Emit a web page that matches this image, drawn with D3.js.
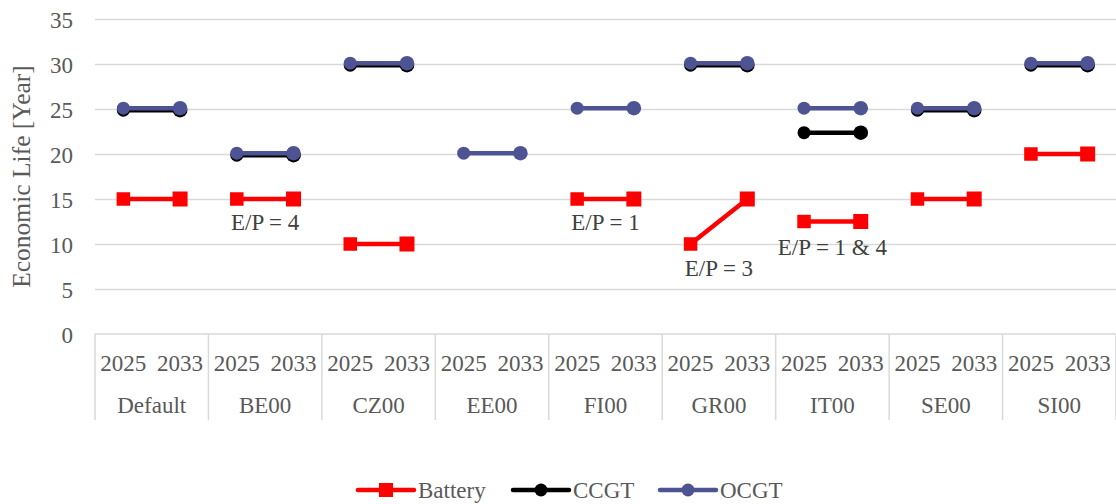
<!DOCTYPE html>
<html><head><meta charset="utf-8">
<script src="https://cdn.jsdelivr.net/npm/d3@7"></script>
<style>
html,body{margin:0;padding:0;background:#fff;}
svg{display:block;}
svg text{font-family:"Liberation Serif","Times New Roman",serif;}
</style></head>
<body><svg id="c" width="1116" height="504" font-family="Liberation Serif"></svg>
<script>
const groups = ["Default","BE00","CZ00","EE00","FI00","GR00","IT00","SE00","SI00"];
const years = ["2025","2033"];
const battery = [[15,15],[15,15],[10,10],[null,null],[15,15],[10,15],[12.5,12.5],[15,15],[20,20]];
const ccgt    = [[25,25],[20,20],[30,30],[null,null],[null,null],[30,30],[22.5,22.5],[25,25],[30,30]];
const ocgt    = [[25,25],[20,20],[30,30],[20,20],[25,25],[30,30],[25,25],[25,25],[30,30]];
const yTicks = [0,5,10,15,20,25,30,35];
const annotGroups = ["BE00","FI00","GR00","IT00"];
const annotTexts = ["E/P = 4","E/P = 1","E/P = 3","E/P = 1 & 4"];
const annotValues = [11.6,11.6,6.5,8.8];
const yTitle = "Economic Life [Year]";

const FONT = "Liberation Serif";
const svg = d3.select("#c");
const M = {l:95, r:1116, t:19, b:334};
const x0 = d3.scaleBand().domain(groups).range([M.l, M.r]);
const x1 = d3.scaleBand().domain(years).range([0, x0.bandwidth()]);
const y = d3.scaleLinear().domain([0,35]).range([M.b, M.t]);
const X = (g,yr) => x0(g) + x1(yr) + x1.bandwidth()/2;

const grid = "#d9d9d9", txt = "#595959";

// gridlines
const ga = svg.append("g").attr("transform",`translate(${M.l},0)`)
  .call(d3.axisLeft(y).tickValues(yTicks.filter(v=>v>0)).tickSize(-(M.r-M.l)).tickFormat(""));
ga.select(".domain").remove();
ga.selectAll("line").attr("stroke",grid).attr("stroke-width",1.5);

// y tick labels
const ya = svg.append("g").attr("transform",`translate(73,0)`)
  .call(d3.axisLeft(y).tickValues(yTicks).tickSize(0).tickPadding(0));
ya.attr("font-family",FONT);
ya.select(".domain").remove();
ya.selectAll("text").attr("font-size",23).attr("fill",txt)
  .attr("font-family",FONT).attr("dy","0.35em");

// bottom axis
svg.append("line").attr("x1",M.l).attr("x2",M.r).attr("y1",M.b).attr("y2",M.b)
  .attr("stroke",grid).attr("stroke-width",1.5);
const bounds = groups.map(g=>x0(g)).concat([M.r]);
svg.selectAll(".sep").data(bounds).enter().append("line")
  .attr("x1",d=>d).attr("x2",d=>d).attr("y1",M.b).attr("y2",420)
  .attr("stroke",grid).attr("stroke-width",1.5);
groups.forEach(g=>{
  years.forEach(yr=>{
    svg.append("text").attr("x",X(g,yr)).attr("y",371).attr("text-anchor","middle")
      .attr("font-family",FONT).attr("font-size",23).attr("fill",txt).text(yr);
  });
  svg.append("text").attr("x",x0(g)+x0.bandwidth()/2).attr("y",413).attr("text-anchor","middle")
    .attr("font-family",FONT).attr("font-size",23).attr("fill",txt).text(g);
});

// y title
svg.append("text").attr("transform",`translate(30,${(M.t+M.b)/2}) rotate(-90)`)
  .attr("text-anchor","middle").attr("font-family",FONT).attr("font-size",25.5).attr("fill",txt).text(yTitle);

const markerSize = [13.5,15];
const circleR = [6.5,7.3];

function drawSeries(data, color, type, dy){
  const g = svg.append("g").attr("transform",`translate(0,${dy})`);
  groups.forEach((grp,i)=>{
    const vals = data[i];
    if (vals[0]==null) return;
    g.append("line").attr("x1",X(grp,years[0])).attr("x2",X(grp,years[1]))
      .attr("y1",y(vals[0])).attr("y2",y(vals[1]))
      .attr("stroke",color).attr("stroke-width",4.5);
    vals.forEach((v,j)=>{
      if (type==="square"){
        const s = markerSize[j];
        g.append("rect").attr("x",X(grp,years[j])-s/2).attr("y",y(v)-s/2)
          .attr("width",s).attr("height",s).attr("fill",color);
      } else {
        g.append("circle").attr("cx",X(grp,years[j])).attr("cy",y(v)).attr("r",circleR[j]).attr("fill",color);
      }
    });
  });
}
const colors = {Battery:"#ff0000", CCGT:"#000000", OCGT:"#4e5394"};
drawSeries(battery, colors.Battery, "square", 0);
drawSeries(ccgt, colors.CCGT, "circle", 1.2);
drawSeries(ocgt, colors.OCGT, "circle", -0.8);

// annotations
annotGroups.forEach((g,i)=>{
  svg.append("text").attr("x",x0(g)+x0.bandwidth()/2).attr("y",y(annotValues[i]))
    .attr("text-anchor","middle").attr("font-family",FONT).attr("font-size",23).attr("fill","#404040").text(annotTexts[i]);
});

// legend
const legend = [
  {name:"Battery", x:358, type:"square"},
  {name:"CCGT", x:513, type:"circle"},
  {name:"OCGT", x:660, type:"circle"}
];
const ly = 490;
legend.forEach(l=>{
  const c = colors[l.name];
  svg.append("line").attr("x1",l.x).attr("x2",l.x+56).attr("y1",ly).attr("y2",ly)
    .attr("stroke",c).attr("stroke-width",4.5).attr("stroke-linecap","round");
  if (l.type==="square") svg.append("rect").attr("x",l.x+28-7).attr("y",ly-7).attr("width",14).attr("height",14).attr("fill",c);
  else svg.append("circle").attr("cx",l.x+28).attr("cy",ly).attr("r",6.5).attr("fill",c);
  svg.append("text").attr("x",l.x+60).attr("y",ly+8).attr("font-family",FONT).attr("font-size",23).attr("fill",txt).text(l.name);
});
</script></body></html>
